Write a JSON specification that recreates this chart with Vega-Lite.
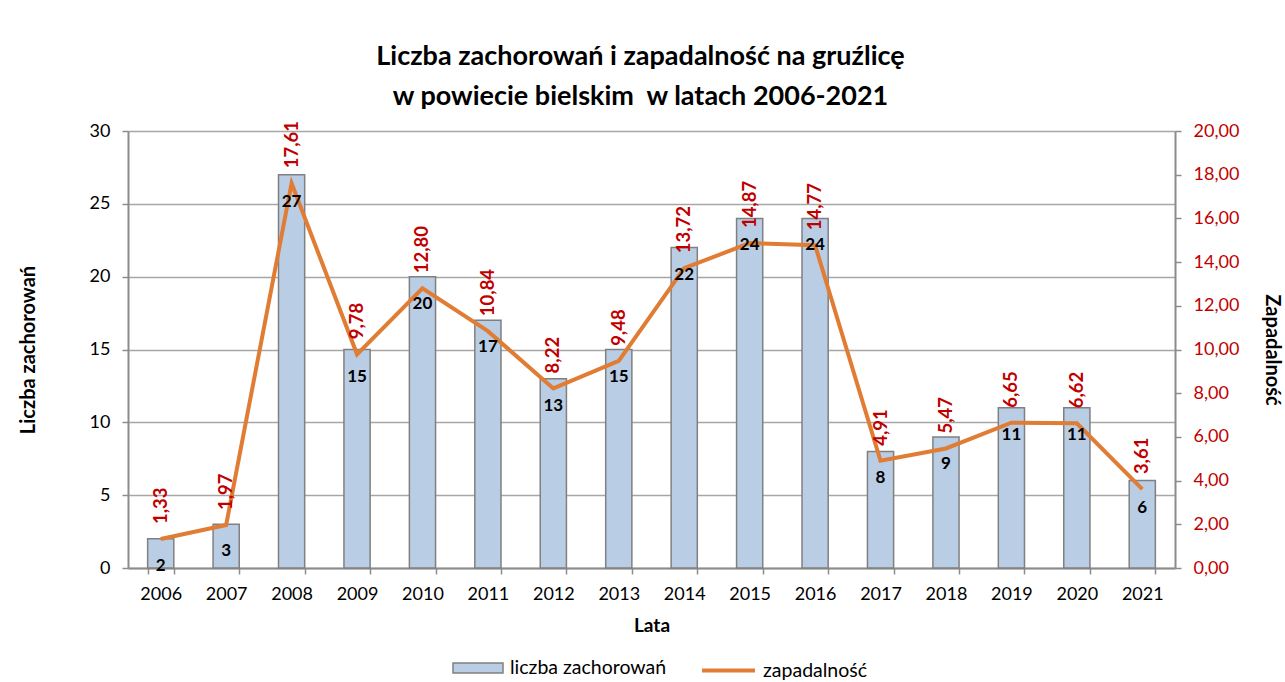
{
  "$schema": "https://vega.github.io/schema/vega-lite/v6.json",
  "width": 1047,
  "height": 437,
  "autosize": {"type": "none"},
  "padding": {"left": 128, "top": 131, "right": 110, "bottom": 114},
  "background": "white",
  "title": {
    "text": ["Liczba zachorowań i zapadalność na gruźlicę", "w powiecie bielskim\u00a0 w latach 2006-2021"],
    "font": "Lato", "fontSize": 27, "fontWeight": "bold", "color": "#000000",
    "anchor": "middle", "frame": "group", "dx": -11, "offset": 10, "lineHeight": 40
  },
  "data": {
    "values": [
      {"rok": "2006", "liczba": 2, "zap": 1.33},
      {"rok": "2007", "liczba": 3, "zap": 1.97},
      {"rok": "2008", "liczba": 27, "zap": 17.61},
      {"rok": "2009", "liczba": 15, "zap": 9.78},
      {"rok": "2010", "liczba": 20, "zap": 12.80},
      {"rok": "2011", "liczba": 17, "zap": 10.84},
      {"rok": "2012", "liczba": 13, "zap": 8.22},
      {"rok": "2013", "liczba": 15, "zap": 9.48},
      {"rok": "2014", "liczba": 22, "zap": 13.72},
      {"rok": "2015", "liczba": 24, "zap": 14.87},
      {"rok": "2016", "liczba": 24, "zap": 14.77},
      {"rok": "2017", "liczba": 8, "zap": 4.91},
      {"rok": "2018", "liczba": 9, "zap": 5.47},
      {"rok": "2019", "liczba": 11, "zap": 6.65},
      {"rok": "2020", "liczba": 11, "zap": 6.62},
      {"rok": "2021", "liczba": 6, "zap": 3.61}
    ]
  },
  "encoding": {
    "x": {
      "field": "rok", "type": "ordinal",
      "scale": {"type": "band", "paddingInner": 0.6, "paddingOuter": 0.3},
      "axis": {
        "title": "Lata", "titleFont": "Lato", "titleFontSize": 19, "titleFontWeight": "bold", "titleColor": "#000000",
        "titlePadding": 13,
        "labelFont": "Lato", "labelFontSize": 18, "labelColor": "#000000", "labelAngle": 0, "labelPadding": 11,
        "tickBand": "extent", "tickSize": 6, "tickColor": "#8c8c8c", "tickWidth": 1.5,
        "domainColor": "#8c8c8c", "domainWidth": 2, "grid": false
      }
    }
  },
  "layer": [
    {
      "mark": {"type": "bar", "stroke": "#808080", "strokeWidth": 1.5},
      "encoding": {
        "y": {
          "field": "liczba", "type": "quantitative",
          "scale": {"domain": [0, 30], "nice": false},
          "axis": {
            "orient": "left", "values": [0, 5, 10, 15, 20, 25, 30],
            "title": "Liczba zachorowań", "titleFont": "Lato", "titleFontSize": 20, "titleFontWeight": "bold", "titleColor": "#000000",
            "titlePadding": 51,
            "labelFont": "Lato", "labelFontSize": 18, "labelColor": "#000000", "labelPadding": 12,
            "tickSize": 6, "tickColor": "#8c8c8c", "tickWidth": 1.5,
            "domainColor": "#8c8c8c", "domainWidth": 2,
            "grid": true, "gridColor": "#a6a6a6", "gridWidth": 1.5
          }
        },
        "fill": {
          "datum": "liczba zachorowań", "type": "nominal",
          "scale": {"range": ["#B9CDE5"]},
          "legend": {
            "orient": "none", "legendX": 324, "legendY": 511, "title": null, "padding": 0,
            "symbolType": "M-1,-0.2H1V0.2H-1Z", "symbolSize": 2500,
            "symbolStrokeColor": "#808080", "symbolStrokeWidth": 1.5,
            "labelFont": "Lato", "labelFontSize": 19.5, "labelColor": "#000000", "labelOffset": 6
          }
        }
      }
    },
    {
      "mark": {"type": "line", "strokeWidth": 4},
      "encoding": {
        "y": {
          "field": "zap", "type": "quantitative",
          "scale": {"domain": [0, 20], "nice": false},
          "axis": {
            "orient": "right", "values": [0, 2, 4, 6, 8, 10, 12, 14, 16, 18, 20], "format": ".2f",
            "title": "Zapadalność", "titleFont": "Lato", "titleFontSize": 20, "titleFontWeight": "bold", "titleColor": "#000000",
            "titlePadding": 23,
            "labelFont": "Lato", "labelFontSize": 18, "labelColor": "#C00000", "labelPadding": 12,
            "tickSize": 6, "tickColor": "#8c8c8c", "tickWidth": 1.5,
            "domainColor": "#8c8c8c", "domainWidth": 2, "grid": false
          }
        },
        "stroke": {
          "datum": "zapadalność", "type": "nominal",
          "scale": {"range": ["#E07C33"]},
          "legend": {
            "orient": "none", "legendX": 572, "legendY": 511, "title": null, "padding": 0,
            "symbolType": "stroke", "symbolSize": 2800, "symbolStrokeWidth": 4,
            "labelFont": "Lato", "labelFontSize": 19.5, "labelColor": "#000000", "labelOffset": 6
          }
        }
      }
    },
    {
      "mark": {"type": "text", "font": "Lato", "fontSize": 17, "fontWeight": "bold", "color": "#000000", "baseline": "middle", "dy": 27},
      "encoding": {
        "y": {"field": "liczba", "type": "quantitative", "scale": {"domain": [0, 30], "nice": false}, "axis": null},
        "text": {"field": "liczba", "type": "quantitative", "format": "d"}
      }
    },
    {
      "mark": {"type": "text", "font": "Lato", "fontSize": 18.5, "fontWeight": "bold", "color": "#C00000", "angle": 270, "align": "left", "baseline": "middle", "dx": 15},
      "encoding": {
        "y": {"field": "zap", "type": "quantitative", "scale": {"domain": [0, 20], "nice": false}, "axis": null},
        "text": {"field": "zap", "type": "quantitative", "format": ".2f"}
      }
    }
  ],
  "resolve": {"scale": {"y": "independent", "fill": "independent", "stroke": "independent"}, "axis": {"y": "independent"}},
  "config": {
    "view": {"stroke": null},
    "font": "Lato",
    "locale": {"number": {"decimal": ",", "thousands": " ", "grouping": [3], "currency": ["", " zł"]}}
  }
}
